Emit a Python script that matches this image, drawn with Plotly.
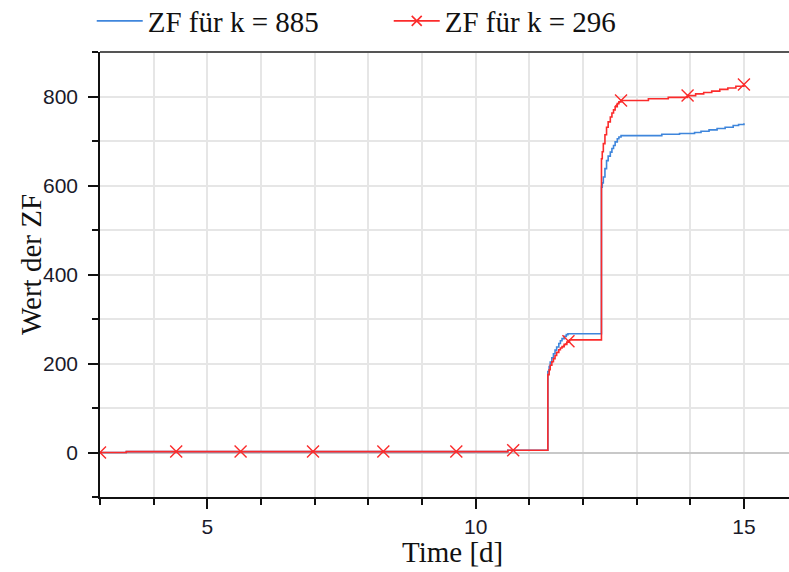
import plotly.graph_objects as go

# ---- data ----
time_885 = [3.0, 3.49, 10.6, 11.346, 11.37, 11.39, 11.42, 11.45, 11.48, 11.51, 11.55, 11.58, 11.61,
            11.65, 11.69, 11.72,
            12.345, 12.36, 12.38, 12.41, 12.44, 12.47, 12.51, 12.54, 12.57, 12.60, 12.64, 12.67, 12.71,
            13.47, 13.8, 14.08, 14.2, 14.35, 14.5, 14.65, 14.8, 14.9, 15.0]
zf_885 = [0, 2, 5, 182, 193, 203, 213, 222, 230, 237, 245, 251, 256,
          261, 265, 267,
          596, 606, 619, 638, 656, 666, 675, 683, 690, 698, 705, 709, 712,
          715, 717, 719, 722, 725, 728, 731, 735, 737, 740]

time_296 = [3.0, 3.49, 10.6, 11.346, 11.37, 11.39, 11.42, 11.45, 11.48, 11.51, 11.55, 11.58, 11.61,
            11.65, 11.70, 11.75,
            12.345, 12.36, 12.38, 12.41, 12.44, 12.47, 12.51, 12.54, 12.57, 12.60, 12.64, 12.67, 12.71,
            13.22, 13.59, 13.95, 14.1, 14.25, 14.4, 14.55, 14.7, 14.85, 15.0]
zf_296 = [0, 2, 5, 175, 186, 196, 204, 211, 218, 225, 231, 235, 238,
          243, 248, 253,
          660, 676, 694, 714, 731, 743, 754, 763, 770, 777, 784, 788, 791,
          795, 798, 802, 806, 809, 812, 816, 819, 823, 827]

marker_time_296 = [3.0, 4.42, 5.62, 6.97, 8.28, 9.64, 10.7, 11.73, 12.71, 13.95, 15.0]
marker_zf_296 = [0, 2, 2, 2, 2, 2, 5, 250, 791, 802, 827]

x_ticks = [5, 10, 15]
y_ticks = [0, 200, 400, 600, 800]

label_885 = "ZF für k = 885"
label_296 = "ZF für k = 296"
x_title = "Time [d]"
y_title = "Wert der ZF"

BLUE = "#3f86dc"
RED = "#fb2b2b"
GRID = "#e6e6e6"
INK = "#111111"
TICKINK = "#1a1a2a"

fig = go.Figure()
fig.add_trace(go.Scatter(x=time_885, y=zf_885, mode="lines", line=dict(color=BLUE, width=1.6, shape="hv"),
                         name=label_885, showlegend=True))
fig.add_trace(go.Scatter(x=time_296, y=zf_296, mode="lines", line=dict(color=RED, width=1.6, shape="hv"),
                         name=label_296, showlegend=False))
fig.add_trace(go.Scatter(x=marker_time_296, y=marker_zf_296, mode="markers",
                         marker=dict(symbol="x-thin-open", size=12, color=RED, line=dict(color=RED, width=1.4)),
                         showlegend=False))
fig.add_trace(go.Scatter(x=[None], y=[None], mode="lines+markers", name=label_296,
                         line=dict(color=RED, width=1.8),
                         marker=dict(symbol="x-thin-open", size=10, color=RED, line=dict(color=RED, width=1.6))))

fig.update_layout(
    width=789, height=572,
    margin=dict(l=100, r=0, t=52, b=75, autoexpand=False),
    paper_bgcolor="white", plot_bgcolor="white",
    font=dict(family="Liberation Serif", color=INK),
    legend=dict(orientation="h", x=-0.012, y=(52 - 21) / 445 + 1, xanchor="left", yanchor="middle",
                font=dict(family="Liberation Serif", size=29, color=INK),
                itemwidth=46, entrywidth=236, entrywidthmode="pixels",
                tracegroupgap=0, bgcolor="rgba(0,0,0,0)"),
    xaxis=dict(range=[3, 15.84], tickmode="array", tickvals=x_ticks, automargin=False,
               ticks="outside", ticklen=10, tickwidth=1.5, tickcolor=INK,
               showline=True, linecolor=INK, linewidth=1.5,
               showgrid=True, gridcolor=GRID, gridwidth=1.5, zeroline=False,
               minor=dict(dtick=1, tick0=0, ticks="outside", ticklen=6, tickwidth=1.5, tickcolor=INK,
                          showgrid=True, gridcolor=GRID, gridwidth=1.5),
               tickfont=dict(family="Liberation Sans", size=21, color=TICKINK)),
    yaxis=dict(range=[-100, 900], tickmode="array", tickvals=y_ticks, automargin=False,
               ticks="outside", ticklen=10, tickwidth=1.5, tickcolor=INK,
               showline=True, linecolor=INK, linewidth=1.5,
               showgrid=True, gridcolor=GRID, gridwidth=1.5,
               zeroline=True, zerolinecolor="#c8c8c8", zerolinewidth=2,
               minor=dict(dtick=100, tick0=0, ticks="outside", ticklen=6, tickwidth=1.5, tickcolor=INK,
                          showgrid=True, gridcolor=GRID, gridwidth=1.5),
               ticklabelstandoff=6,
               tickfont=dict(family="Liberation Sans", size=21, color=TICKINK)),
)
fig.add_shape(type="line", xref="paper", yref="paper", x0=0, x1=1, y0=1, y1=1,
              line=dict(color="#555555", width=2))
fig.add_annotation(text=x_title, xref="paper", yref="paper", x=(452 - 100) / 689, y=(497 - 552) / 445,
                   xanchor="center", yanchor="middle", showarrow=False,
                   font=dict(family="Liberation Serif", size=29, color=INK))
fig.add_annotation(text=y_title, xref="paper", yref="paper", x=(31 - 100) / 689, y=(497 - 265) / 445,
                   xanchor="center", yanchor="middle", showarrow=False, textangle=-90,
                   font=dict(family="Liberation Serif", size=29, color=INK))

# remove the browser's default 8px body margin so the figure fills the window exactly
fig.write_html("out.html", config={"displayModeBar": False},
               post_script="document.body.style.margin='0';")
